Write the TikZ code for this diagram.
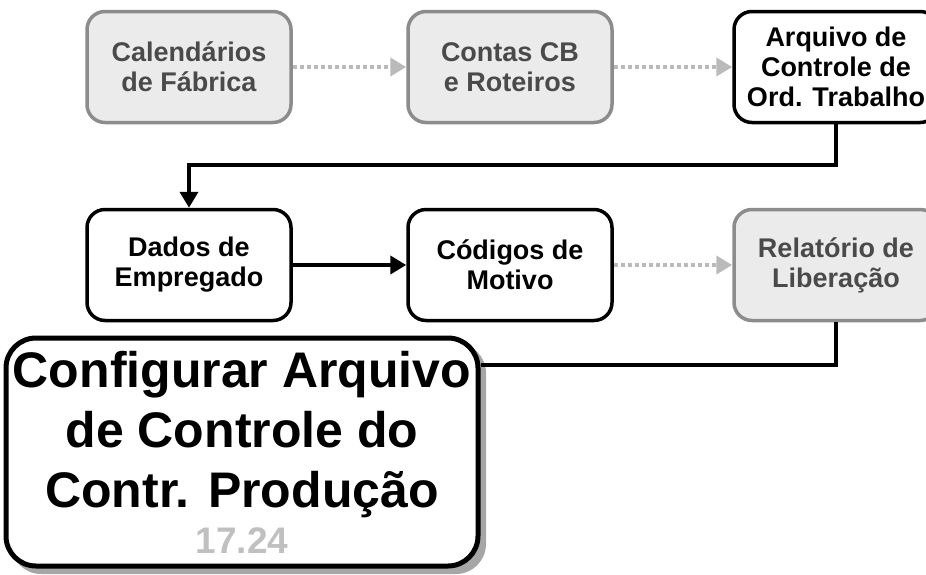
\documentclass[tikz,border=0pt]{standalone}
\usepackage{fontspec}
\setmainfont{Liberation Sans}
\usetikzlibrary{arrows.meta, positioning, calc}
\definecolor{boxgray}{HTML}{8C8C8C}
\definecolor{fillgray}{HTML}{EBEBEB}
\definecolor{textgray}{HTML}{4A4A4A}
\definecolor{numgray}{HTML}{C0C0C0}

\begin{document}
\begin{tikzpicture}[x=1pt, y=-1pt,
	stepbox/.style={rectangle, rounded corners=18pt, draw, line width=3.5pt, fill=white,
		minimum width=204pt, minimum height=111pt, align=center, inner sep=0pt,
		font=\bfseries\fontsize{27}{30}\selectfont},
	donebox/.style={stepbox, draw=boxgray, fill=fillgray, text=textgray},
	flow/.style={line width=4pt, -{Triangle[length=16pt, width=18pt]}},
	skip/.style={line width=4pt, boxgray!60, dash pattern=on 4pt off 3pt, -{Triangle[length=16pt, width=18pt]}}]
	\useasboundingbox (0,0) rectangle (926,574);
	\clip (0,0) rectangle (926,574);

	% First row
	\node[donebox] (cal) at (189,67) {Calendários\\de Fábrica};
	\node[donebox] (contas) at (510,67) {Contas CB\\e Roteiros};
	\node[stepbox] (arqctrl) at (836,67) {Arquivo de\\Controle de\\Ord. Trabalho};
	\draw[skip] (cal) -- (contas);
	\draw[skip] (contas) -- (arqctrl);

	% Second row
	\node[stepbox] (dados) at (189,265) {Dados de\\Empregado};
	\node[stepbox] (codigos) at (510,265) {Códigos de\\Motivo};
	\node[donebox] (relat) at (836,265) {Relatório de\\Liberação};
	\coordinate (turn) at (0,165);
	\draw[flow] (arqctrl.south) |- (turn -| dados.north) -- (dados.north);
	\draw[flow] (dados) -- (codigos);
	\draw[skip] (codigos) -- (relat);

	% Title box with shadow
	\fill[gray!70, rounded corners=30pt] (11,343) rectangle (486,574);
	\node[rectangle, rounded corners=30pt, draw, line width=5pt, fill=white,
		minimum width=472pt, minimum height=228pt, align=center, inner sep=0pt,
		font=\bfseries\fontsize{50}{60}\selectfont] (main) at (242,452)
		{Configurar Arquivo\\de Controle do\\Contr. Produção\\[-14pt]
		 \textcolor{numgray}{\fontsize{37}{40}\selectfont 17.24}};
	\coordinate (back) at (0,365);
	\draw[line width=4pt] (relat.south) |- (back -| main.east);
\end{tikzpicture}
\end{document}
